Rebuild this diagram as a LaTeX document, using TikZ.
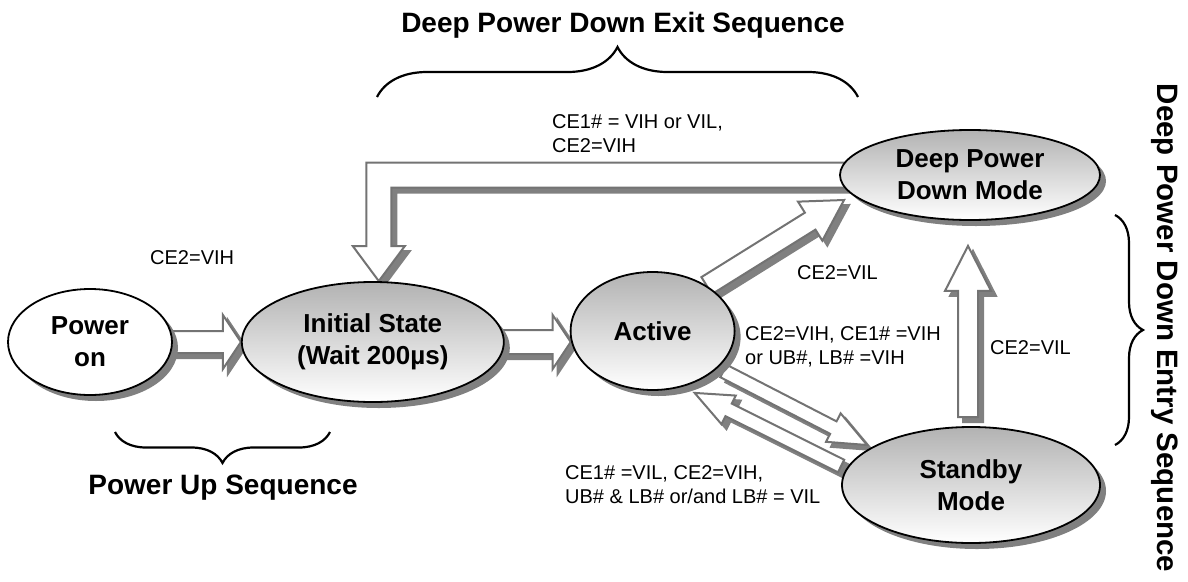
\documentclass[tikz,border=0pt]{standalone}
\usepackage{fontspec}
\setmainfont{Liberation Sans}
\usetikzlibrary{shapes.geometric,shadows,calc,decorations.pathreplacing,positioning}

\pgfdeclarelayer{back}
\pgfsetlayers{back,main}

\tikzset{
  mode/.style={ellipse, draw, line width=1.8pt, inner sep=0pt, align=center,
    font=\fontsize{26}{32}\selectfont\bfseries,
    drop shadow={shadow xshift=6pt, shadow yshift=-6pt, fill=black!50, opacity=1}},
  graymode/.style={mode, top color=black!30, bottom color=white},
  cond/.style={anchor=west, align=left, inner sep=0pt, font=\fontsize{20}{24}\selectfont},
  title/.style={font=\fontsize{28}{34}\selectfont\bfseries},
  arrowbody/.style={fill=white, draw=black!55, line width=2pt},
  arrowshadow/.style={fill=black!50, draw=black!50, line width=2pt,
    transform canvas={shift={(5pt,-5pt)}}},
  bracket/.style={decorate, decoration={brace, amplitude=#1}, line width=2.2pt},
}

% hollow block arrow: start, tip, shaft half width, head half width, head length
\newcommand{\blockarrow}[5]{%
  \coordinate (ba-s) at (#1);
  \coordinate (ba-t) at (#2);
  \coordinate (ba-h) at ($(ba-t)!#5pt!(ba-s)$);
  \foreach \look in {arrowshadow,arrowbody}
    \filldraw[\look] ($(ba-s)!#3pt!90:(ba-t)$) -- ($(ba-h)!#3pt!90:(ba-t)$)
      -- ($(ba-h)!#4pt!90:(ba-t)$) -- (ba-t) -- ($(ba-h)!#4pt!-90:(ba-t)$)
      -- ($(ba-h)!#3pt!-90:(ba-t)$) -- ($(ba-s)!#3pt!-90:(ba-t)$) -- cycle;
}

\begin{document}
\begin{tikzpicture}[x=1pt, y=-1pt]
  \useasboundingbox (0,0) rectangle (1188,581);

  % states
  \node[mode, fill=white, minimum width=164pt, minimum height=106pt] (pwr) at (90,342) {Power\\on};
  \node[graymode, minimum width=262pt, minimum height=120pt, right=68pt of pwr] (init) {Initial State\\(Wait 200µs)};
  \node[graymode, minimum width=164pt, minimum height=118pt, right=65pt of init, yshift=11pt] (act) {Active};
  \node[graymode, minimum width=260pt, minimum height=90pt] (dpd) at (970,175) {Deep Power\\Down Mode};
  \node[graymode, minimum width=258pt, minimum height=116pt] (stby) at (971,485) {Standby\\Mode};

  % conditions
  \node[cond] (c-on) at (150,258) {CE2=VIH};
  \node[cond] (c-exit) at (552,134) {CE1\# = VIH or VIL,\\CE2=VIH};
  \node[cond] (c-deep) at (797,273) {CE2=VIL};
  \node[cond] (c-stby) at (745,347) {CE2=VIH, CE1\# =VIH\\or UB\#, LB\# =VIH};
  \node[cond] (c-up) at (990,348) {CE2=VIL};
  \node[cond] (c-act) at (565,485) {CE1\# =VIL, CE2=VIH,\\UB\# \& LB\# or/and LB\# = VIL};

  % sequences
  \node[title] (t-exit) at (623,25) {Deep Power Down Exit Sequence};
  \node[title] (t-up) at (223,488) {Power Up Sequence};
  \node[title, font=\fontsize{29.5}{34}\selectfont\bfseries, rotate=-90] (t-entry) at (1165,328) {Deep Power Down Entry Sequence};
  \draw[bracket=50pt] (377,97) -- (858,97);
  \draw[bracket=31pt] (330,432) -- (115,432);
  \draw[bracket=28pt] (1115,215) -- (1115,445);

  % transitions
  \begin{pgfonlayer}{back}
    \blockarrow{$(pwr.east)+(-6,0)$}{init.west}{11}{27}{18}
    \blockarrow{$(init.east)+(-6,0)$}{$(act.west |- init.east)+(1,0)$}{12}{27}{18}
    \blockarrow{act.40}{$(dpd.west)+(5,25)$}{10}{23}{40}
    \blockarrow{$(stby.north)+(-3,-9)$}{$(dpd.south)+(-2,25)$}{10}{23}{45}
    \blockarrow{$(act.east)+(-12,40)$}{$(stby.west)+(26,-40)$}{7}{16}{38}
    \blockarrow{$(stby.west)+(0,-19)$}{$(act.south)+(42,2)$}{7}{16}{38}
    \coordinate (ltip) at ($(init.north)+(6,0)$);
    \coordinate (lbend) at (ltip |- dpd.west);
    \foreach \look in {arrowshadow,arrowbody}
      \filldraw[\look] ($(dpd.west)+(10,-12.5)$) -- ($(lbend)+(-12.5,-12.5)$)
        -- ($(ltip)+(-12.5,-35)$) -- ($(ltip)+(-26,-35)$) -- (ltip)
        -- ($(ltip)+(26,-35)$) -- ($(ltip)+(12.5,-35)$) -- ($(lbend)+(12.5,12.5)$)
        -- ($(dpd.west)+(10,12.5)$) -- cycle;
  \end{pgfonlayer}
\end{tikzpicture}
\end{document}
